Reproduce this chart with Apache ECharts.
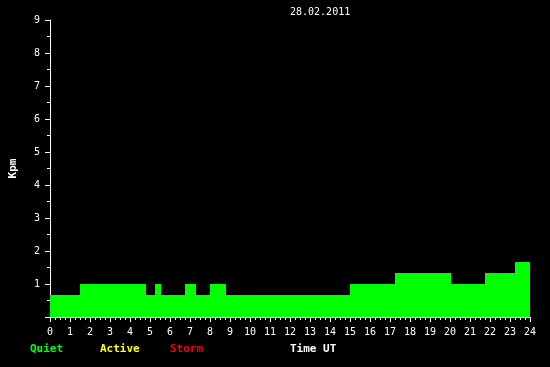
<!DOCTYPE html>
<html><head><meta charset="utf-8">
<script src="https://cdn.jsdelivr.net/npm/echarts@6/dist/echarts.min.js"></script>
<style>html,body{margin:0;padding:0;background:#000}#c{width:550px;height:367px}</style>
</head><body><div id="c"></div>
<script>
var segStart = [0, 1.5, 4.8, 5.25, 5.55, 6.75, 7.3, 8.0, 8.8, 15.0, 17.25, 20.05, 21.75, 23.25];
var segEnd   = [1.5, 4.8, 5.25, 5.55, 6.75, 7.3, 8.0, 8.8, 15.0, 17.25, 20.05, 21.75, 23.25, 24];
var kpValues = [0.67, 1.0, 0.67, 1.0, 0.67, 1.0, 0.67, 1.0, 0.67, 1.0, 1.33, 1.0, 1.33, 1.67];
var xTicks = [0,1,2,3,4,5,6,7,8,9,10,11,12,13,14,15,16,17,18,19,20,21,22,23,24];
var yTicks = [0,1,2,3,4,5,6,7,8,9];

var data = segStart.map(function(s,i){ return [s, segEnd[i], kpValues[i]]; });
var font = '"DejaVu Sans Mono", monospace';
var chart = echarts.init(document.getElementById('c'));
chart.setOption({
  backgroundColor: '#000',
  animation: false,
  title: [
    {text: '28.02.2011', left: 290, top: 7, padding: 0, textStyle: {color:'#fff', fontFamily: font, fontSize: 10, fontWeight: 'normal'}},
    {text: 'Quiet', left: 30, top: 344, padding: 0, textStyle: {color:'#00ff00', fontFamily: font, fontSize: 11, fontWeight: 'bold'}},
    {text: 'Active', left: 100, top: 344, padding: 0, textStyle: {color:'#ffff00', fontFamily: font, fontSize: 11, fontWeight: 'bold'}},
    {text: 'Storm', left: 170, top: 344, padding: 0, textStyle: {color:'#ff0000', fontFamily: font, fontSize: 11, fontWeight: 'bold'}},
    {text: 'Time UT', left: 290, top: 344, padding: 0, textStyle: {color:'#fff', fontFamily: font, fontSize: 11, fontWeight: 'bold'}}
  ],
  grid: {left: 50, right: 20, top: 20, bottom: 50, containLabel: false, outerBoundsMode: 'none'},
  xAxis: {
    type: 'value', min: xTicks[0], max: xTicks[xTicks.length-1], interval: 1,
    axisLine: {lineStyle: {color: '#fff', width: 1}},
    axisTick: {length: 5, lineStyle: {color: '#fff'}},
    minorTick: {show: true, splitNumber: 4, length: 3, lineStyle: {color: '#fff'}},
    splitLine: {show: false},
    axisLabel: {color: '#fff', fontFamily: font, fontSize: 10, margin: 10}
  },
  yAxis: {
    type: 'value', min: yTicks[0], max: yTicks[yTicks.length-1], interval: 1,
    name: 'Kpm', nameLocation: 'middle', nameGap: 31, nameRotate: 90,
    nameTextStyle: {color: '#fff', fontFamily: font, fontSize: 11, fontWeight: 'bold'},
    axisLine: {show: true, lineStyle: {color: '#fff', width: 1}},
    axisTick: {show: true, length: 5, lineStyle: {color: '#fff'}},
    minorTick: {show: true, splitNumber: 2, length: 3, lineStyle: {color: '#fff'}},
    splitLine: {show: false},
    axisLabel: {color: '#fff', fontFamily: font, fontSize: 10, margin: 10,
      formatter: function(v){ return v === 0 ? '' : String(v); }}
  },
  series: [{
    type: 'custom',
    data: data,
    encode: {x: [0,1], y: 2},
    renderItem: function(params, api){
      var p0 = api.coord([api.value(0), api.value(2)]);
      var p1 = api.coord([api.value(1), 0]);
      var x0 = Math.round(p0[0]), x1 = Math.round(p1[0]);
      var y0 = Math.round(p0[1]), y1 = Math.round(p1[1]);
      return {type: 'rect', shape: {x: x0, y: y0, width: x1-x0, height: y1-y0},
        style: {fill: '#00ff00', stroke: null}};
    }
  }]
});
</script></body></html>
